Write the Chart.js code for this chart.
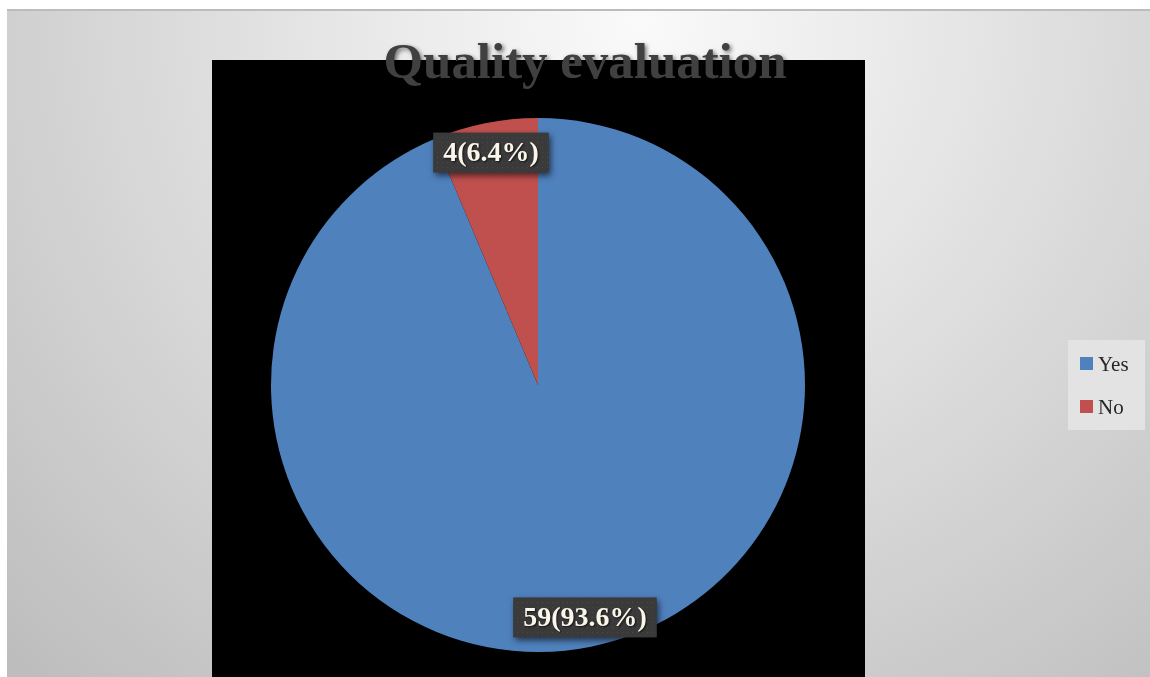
<!DOCTYPE html>
<html>
<head>
<meta charset="utf-8">
<title>Quality evaluation</title>
<script src="https://cdn.jsdelivr.net/npm/chart.js@4/dist/chart.umd.min.js"></script>
<style>
  html, body { margin: 0; padding: 0; background: #ffffff; }
  canvas { display: block; }
</style>
</head>
<body>
<canvas id="pie" width="1150" height="677"></canvas>
<script>
// Chart data
const categories = ['Yes', 'No'];
const counts = [59, 4];
const percents = [93.6, 6.4];
const sliceColors = ['#4f81bd', '#c0504d'];
const chartTitle = 'Quality evaluation';

// small dotted texture for the label boxes
function makeDotPattern(ctx) {
    const c = document.createElement('canvas');
    c.width = 5;
    c.height = 5;
    const p = c.getContext('2d');
    p.fillStyle = '#3a3a3a';
    p.fillRect(0, 0, 5, 5);
    p.fillStyle = '#4a4a4a';
    p.fillRect(2, 2, 1, 1);
    return ctx.createPattern(c, 'repeat');
}

const backdrop = {
    id: 'backdrop',
    beforeDraw(chart) {
        const ctx = chart.ctx;
        const w = chart.width, h = chart.height;
        ctx.save();
        ctx.fillStyle = '#ffffff';
        ctx.fillRect(0, 0, w, h);

        // grey panel with soft radial light near the title
        const g = ctx.createRadialGradient(640, 20, 0, 640, 20, 900);
        g.addColorStop(0, '#fafafa');
        g.addColorStop(0.35, '#e6e6e6');
        g.addColorStop(1, '#bdbdbd');
        ctx.fillStyle = g;
        ctx.fillRect(7, 10, w - 7, h - 10);

        // top edge of the panel
        ctx.fillStyle = '#bcbcbc';
        ctx.fillRect(7, 9, w - 7, 2);

        // black plot square
        ctx.fillStyle = '#000000';
        ctx.fillRect(212, 60, 653, h - 60);
        ctx.restore();
    }
};

const sliceLabels = {
    id: 'sliceLabels',
    afterDatasetsDraw(chart) {
        const ctx = chart.ctx;
        const meta = chart.getDatasetMeta(0);
        const pattern = makeDotPattern(ctx);
        ctx.save();
        ctx.font = 'bold 28px "Liberation Serif", serif';
        ctx.textAlign = 'center';
        ctx.textBaseline = 'middle';
        meta.data.forEach((arc, i) => {
            const v = chart.data.datasets[0].data[i];
            const text = v + '(' + percents[i].toFixed(1) + '%)';
            const mid = (arc.startAngle + arc.endAngle) / 2;
            const r = arc.outerRadius * 0.888;
            const x = arc.x + Math.cos(mid) * r;
            const y = arc.y + Math.sin(mid) * r;
            const tw = ctx.measureText(text).width;
            const bw = tw + 20, bh = 40;

            ctx.shadowColor = 'rgba(0,0,0,0.6)';
            ctx.shadowBlur = 6;
            ctx.shadowOffsetX = 2;
            ctx.shadowOffsetY = 3;
            ctx.fillStyle = pattern;
            ctx.fillRect(x - bw / 2, y - bh / 2, bw, bh);

            ctx.shadowColor = 'rgba(0,0,0,0.7)';
            ctx.shadowBlur = 2;
            ctx.shadowOffsetX = 1;
            ctx.shadowOffsetY = 1;
            ctx.fillStyle = '#fbf6ea';
            ctx.fillText(text, x, y + 1);
        });
        ctx.restore();
    }
};

const titleAndLegend = {
    id: 'titleAndLegend',
    afterDraw(chart) {
        const ctx = chart.ctx;
        ctx.save();

        // title, sized to span the heading width
        ctx.font = 'bold 50px "Liberation Serif", serif';
        const scale = 403 / ctx.measureText(chartTitle).width;
        ctx.font = 'bold ' + (50 * scale).toFixed(1) + 'px "Liberation Serif", serif';
        ctx.textAlign = 'center';
        ctx.textBaseline = 'alphabetic';
        ctx.shadowColor = 'rgba(0,0,0,0.55)';
        ctx.shadowBlur = 4;
        ctx.shadowOffsetX = 2;
        ctx.shadowOffsetY = 2;
        ctx.fillStyle = '#404040';
        ctx.fillText(chartTitle, 585, 78);

        // legend box on the right
        ctx.shadowColor = 'transparent';
        ctx.fillStyle = 'rgba(228,228,228,0.9)';
        ctx.fillRect(1068, 340, 77, 90);
        ctx.font = '21px "Liberation Serif", serif';
        ctx.textAlign = 'left';
        ctx.textBaseline = 'alphabetic';
        chart.data.labels.forEach((lab, i) => {
            const y = 357 + i * 43;
            ctx.fillStyle = sliceColors[i];
            ctx.fillRect(1080, y, 13, 13);
            ctx.fillStyle = '#262626';
            ctx.fillText(lab, 1098, y + 14);
        });
        ctx.restore();
    }
};

new Chart(document.getElementById('pie').getContext('2d'), {
    type: 'pie',
    data: {
        labels: categories,
        datasets: [{
            data: counts,
            backgroundColor: sliceColors,
            borderWidth: 0
        }]
    },
    options: {
        responsive: false,
        animation: false,
        events: [],
        rotation: 0,
        layout: {
            padding: { left: 271, right: 345, top: 118, bottom: 25 }
        },
        plugins: {
            legend: { display: false },
            title: { display: false },
            tooltip: { enabled: false }
        }
    },
    plugins: [backdrop, sliceLabels, titleAndLegend]
});
</script>
</body>
</html>
